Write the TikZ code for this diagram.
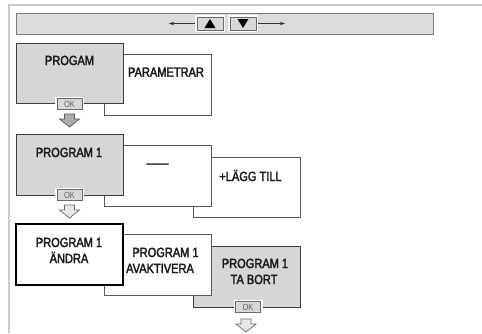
\documentclass[tikz,border=0pt]{standalone}
\usepackage{fontspec}
\setmainfont[FakeStretch=0.84]{Liberation Sans}
\newfontfamily\lblfont[FakeStretch=0.83,FakeBold=2.4]{Liberation Sans}
\usetikzlibrary{arrows.meta}
\definecolor{framegray}{HTML}{CCCCCC}
\definecolor{bargray}{HTML}{DCDCDC}
\definecolor{barline}{HTML}{7A7A7A}
\definecolor{boxgray}{HTML}{D6D6D6}
\definecolor{boxline}{HTML}{3C3C3C}
\definecolor{wline}{HTML}{5A5A5A}
\definecolor{okfill}{HTML}{D8D8D8}
\definecolor{okline}{HTML}{6A6A6A}
\definecolor{oktext}{HTML}{606060}
\definecolor{txt}{HTML}{1A1A1A}
\definecolor{arrowdark}{HTML}{ABABAB}
\definecolor{arrowlight}{HTML}{E8E8E8}
\tikzset{
  panel/.style={rectangle, inner sep=0pt, outer sep=0pt, anchor=north west,
    minimum width=107pt, minimum height=61pt},
  graybox/.style={panel, fill=boxgray, draw=boxline, line width=1pt},
  whitebox/.style={panel, fill=white, draw=wline, line width=0.8pt},
  selbox/.style={panel, fill=white, draw=black, line width=1.1pt},
  lbl/.style={inner sep=0pt, anchor=base, text=txt, font=\lblfont\fontsize{13.3}{15}\selectfont},
  okbtn/.style={rectangle, inner sep=0pt, minimum width=25pt, minimum height=11pt,
    fill=okfill, draw=okline, line width=0.8pt,
    preaction={draw=white, line width=4pt},
    text=oktext, font=\fontsize{9}{9}\selectfont},
  navbtn/.style={rectangle, inner sep=0pt, minimum width=26pt, minimum height=13pt,
    fill=okfill, draw=okline, line width=0.8pt,
    preaction={draw=white, line width=4pt}},
  darrow/.style={fill=arrowdark, draw=wline, line width=0.7pt, line join=miter},
  larrow/.style={fill=arrowlight, draw=okline, line width=0.7pt, line join=miter},
}
\newcommand{\dnarrow}[3]{%
  \draw[#3] (#1-5,#2) -- (#1+5,#2) -- (#1+5,#2+5) -- (#1+10,#2+5) -- (#1,#2+13)
    -- (#1-10,#2+5) -- (#1-5,#2+5) -- cycle;}
\begin{document}
\begin{tikzpicture}[x=1pt,y=-1pt]
\useasboundingbox (0,0) rectangle (482,333);
% outer frame
\draw[framegray, line width=1.5pt] (482,5) -- (9,5) -- (9,333);
% top bar
\node[rectangle, inner sep=0pt, anchor=north west, minimum width=417pt, minimum height=21pt,
  fill=bargray, draw=barline, line width=0.9pt] (bar) at (16,13) {};
\node[navbtn] (up) at (210,23.5) {};
\node[navbtn] (down) at (243,23.5) {};
\fill (up.center) ++(0,-4.5) -- ++(5.5,9) -- ++(-11,0) -- cycle;
\fill (down.center) ++(0,4.5) -- ++(5.5,-9) -- ++(-11,0) -- cycle;
\coordinate (leftend) at (169,23.5);
\coordinate (rightend) at (285,23.5);
\draw[-{Stealth[length=5pt,width=3.5pt]}, line width=0.6pt, black!80] ([xshift=-2pt]up.west) -- (leftend);
\draw[-{Stealth[length=5pt,width=3.5pt]}, line width=0.6pt, black!80] ([xshift=2pt]down.east) -- (rightend);
% row 1
\node[whitebox] (param) at (104,54) {};
\node[graybox, minimum height=60pt] (progam) at (16,43) {};
\node[lbl] (tprogam) at (69.5,65) {PROGAM};
\node[lbl] (tparam) at (166,76.7) {PARAMETRAR};
\node[okbtn] (ok1) at (69.5,104) {OK};
\dnarrow{69.5}{114}{darrow}
% row 2
\node[whitebox, minimum height=60pt] (add) at (193,157) {};
\node[whitebox] (none) at (104,145) {};
\node[graybox] (prog1) at (16,134) {};
\node[lbl] (tprog1) at (69,157) {PROGRAM 1};
\node[lbl] (tnone) at (157.5,167.5) {——};
\node[lbl] (tadd) at (250.5,181) {+LÄGG TILL};
\node[okbtn] (ok2) at (69.5,195) {OK};
\dnarrow{69.5}{205}{larrow}
% row 3
\node[graybox] (del) at (193,246) {};
\node[whitebox] (deact) at (104,234) {};
\node[selbox] (edit) at (16,224) {};
\node[lbl] (tedit1) at (69,247) {PROGRAM 1};
\node[lbl] (tedit2) at (69,263) {ÄNDRA};
\node[lbl] (tdeact1) at (165.5,257) {PROGRAM 1};
\node[lbl] (tdeact2) at (160,273) {AVAKTIVERA};
\node[lbl] (tdel1) at (255,268) {PROGRAM 1};
\node[lbl] (tdel2) at (254,284) {TA BORT};
\node[okbtn] (ok3) at (248,307) {OK};
\dnarrow{246}{319}{larrow}
\end{tikzpicture}
\end{document}
